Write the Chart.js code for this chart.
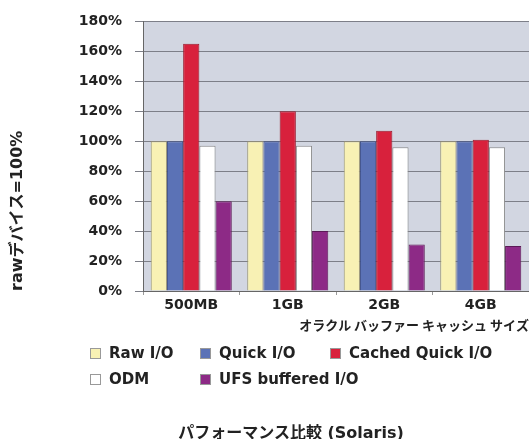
<!DOCTYPE html>
<html>
<head>
<meta charset="utf-8">
<script src="https://cdn.jsdelivr.net/npm/chart.js@4/dist/chart.umd.min.js"></script>
<style>
  html, body { margin: 0; padding: 0; background: #fff; }
  #wrap { position: relative; width: 529px; height: 439px; overflow: hidden; }
  #legend {
    position: absolute; left: 90px; top: 344px;
    display: grid; grid-template-columns: 110px 130px auto; row-gap: 8px;
    font: bold 15px "DejaVu Sans", "Noto Sans CJK JP", sans-serif; color: #222;
  }
  .item { display: flex; align-items: center; white-space: nowrap; }
  .box { flex: 0 0 auto; width: 9px; height: 9px; border: 1px solid #999; margin-right: 8px; }
  #title {
    position: absolute; left: 0; width: 582px; top: 419px; text-align: center;
    font: bold 16px "DejaVu Sans", "Noto Sans CJK JP", sans-serif; color: #222;
  }
</style>
</head>
<body>
<div id="wrap">
  <canvas id="perfChart" width="529" height="439"></canvas>
  <div id="legend"></div>
  <div id="title">パフォーマンス比較 (Solaris)</div>
</div>
<script>
// buffer cache sizes
const categories = ['500MB', '1GB', '2GB', '4GB'];

// % relative to raw device
const rawIO = [100, 100, 100, 100];
const quickIO = [100, 100, 100, 100];
const cachedQuickIO = [165, 120, 107, 101];
const odm = [97, 97, 96, 96];
const ufsBuffered = [60, 40, 31, 30];

const seriesNames = ['Raw I/O', 'Quick I/O', 'Cached Quick I/O', 'ODM', 'UFS buffered I/O'];

const yMax = 180;
const yStep = 20;

const fills = ['#f8f1b4', '#5b72b6', '#d8213c', '#ffffff', '#8d2a86'];
const edges = ['#9a9470', '#3b4d86', '#9c1a2c', '#8a8a8a', '#5b1a57'];

const plotBg = {
    id: 'plotBg',
    beforeDraw(chart) {
        const { ctx, chartArea } = chart;
        ctx.save();
        ctx.fillStyle = '#d2d6e1';
        ctx.fillRect(chartArea.left, chartArea.top, chartArea.right - chartArea.left, chartArea.bottom - chartArea.top);
        ctx.restore();
    }
};

const values = [rawIO, quickIO, cachedQuickIO, odm, ufsBuffered];

const chart = new Chart(document.getElementById('perfChart'), {
    type: 'bar',
    data: {
        labels: categories,
        datasets: values.map((v, i) => ({
            label: seriesNames[i],
            data: v,
            backgroundColor: fills[i],
            borderColor: edges[i],
            borderWidth: 1,
            categoryPercentage: 0.84,
            barPercentage: 1.0
        }))
    },
    options: {
        responsive: false,
        animation: false,
        layout: { padding: { top: 16, right: 0, left: 0, bottom: 0 } },
        plugins: {
            legend: { display: false },
            tooltip: { enabled: false }
        },
        scales: {
            y: {
                min: 0,
                max: yMax,
                ticks: {
                    stepSize: yStep,
                    callback: v => v + '%',
                    color: '#222',
                    padding: 13,
                    font: { family: 'DejaVu Sans', size: 14, weight: 'bold' }
                },
                grid: { color: '#7d7f88', tickLength: 8 },
                border: { color: '#666' },
                title: {
                    display: true,
                    text: 'rawデバイス=100%',
                    align: 'start',
                    color: '#222',
                    padding: { top: 8, bottom: 0 },
                    font: { family: "'DejaVu Sans', 'Noto Sans CJK JP'", size: 16, weight: 'bold' }
                },
                afterFit: s => { s.width = 143; }
            },
            x: {
                grid: { drawOnChartArea: false, tickLength: 4, color: '#999' },
                border: { color: '#666' },
                ticks: {
                    color: '#222',
                    padding: 2,
                    font: { family: 'DejaVu Sans', size: 14, weight: 'bold' }
                },
                title: {
                    display: true,
                    text: 'オラクル バッファー キャッシュ サイズ',
                    align: 'end',
                    color: '#222',
                    padding: { top: 0, bottom: 106 },
                    font: { family: "'Noto Sans CJK JP'", size: 13, weight: 'bold' }
                },
                afterFit: s => { s.height = 148; }
            }
        }
    },
    plugins: [plotBg]
});

// legend built from the datasets
const legend = document.getElementById('legend');
chart.data.datasets.forEach(ds => {
    const item = document.createElement('div');
    item.className = 'item';
    const box = document.createElement('span');
    box.className = 'box';
    box.style.background = ds.backgroundColor;
    const txt = document.createElement('span');
    txt.textContent = ds.label;
    item.appendChild(box);
    item.appendChild(txt);
    legend.appendChild(item);
});
</script>
</body>
</html>
